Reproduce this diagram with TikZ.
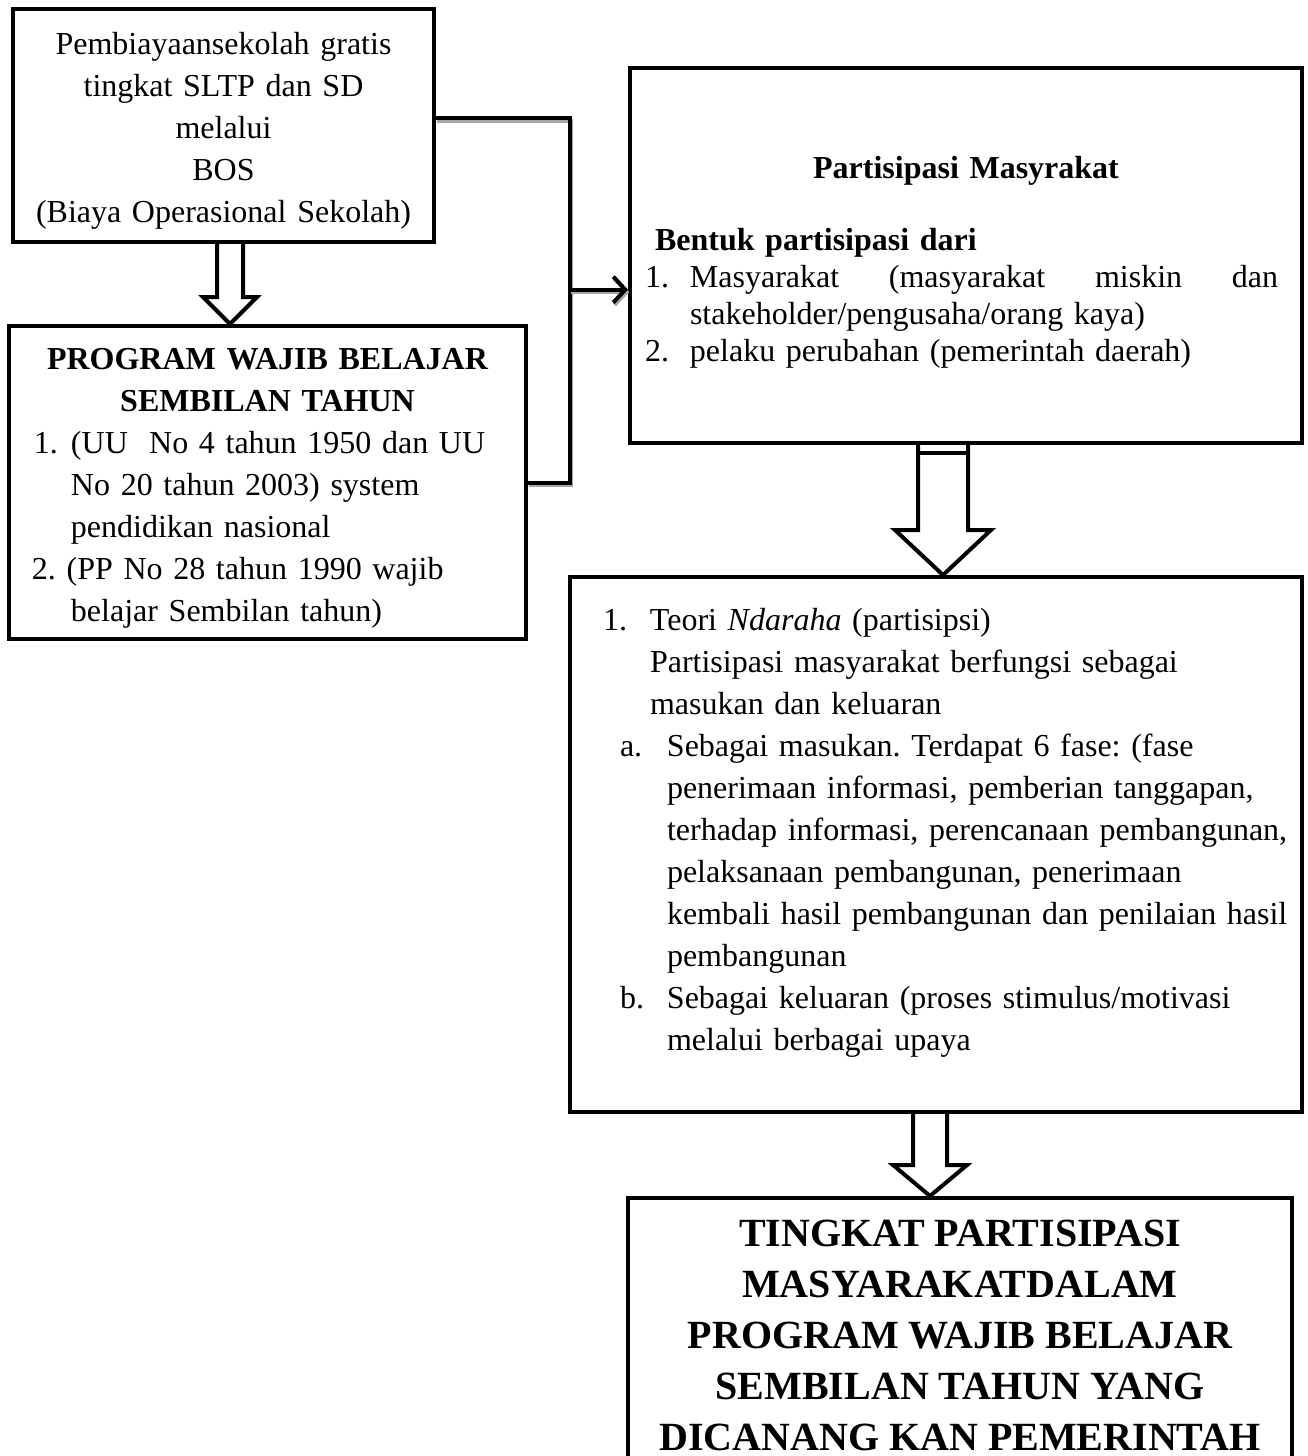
\documentclass[tikz,border=0pt]{standalone}
\usepackage{fontspec}
\setmainfont{Liberation Serif}
\usetikzlibrary{calc,arrows.meta}
\tikzset{
		boxStyle/.style =    {draw,line width=2pt,inner ysep=0pt,font=\fontsize{16}{21}\selectfont},
		connStyle/.style =   {line width=2pt,preaction={draw=black!35,line width=2pt,transform canvas={shift={(0.6pt,-1.2pt)}}}},
		hollowStyle/.style = {line width=2pt,line join=miter}
}
% hollow block arrow: from, to, axis, shaft half width, head half width, head length
\newcommand\hollowArrow[6]{%
  \draw[hollowStyle] let \p1 = (#3 |- #1.south), \p2 = (#3 |- #2.north) in
    (\x1-#4,\y1) -- (\x1-#4,\y2+#6) -- (\x1-#5,\y2+#6) -- (\x1,\y2)
    -- (\x1+#5,\y2+#6) -- (\x1+#4,\y2+#6) -- (\x1+#4,\y1);
}

\begin{document}
\begin{tikzpicture}[x=0.5pt,y=-0.5pt]
  \useasboundingbox (0,0) rectangle (1307,1456);
  \clip (0,0) rectangle (1307,1456);

  % Draw the boxes
  \node [boxStyle,text width=200pt,inner xsep=5.25pt,minimum height=116.5pt] (b1) at (223.5,125.5) {%
    \centering
    Pembiayaansekolah gratis\\ tingkat SLTP dan SD\\ melalui\\ BOS\\ (Biaya Operasional Sekolah)\par
    \kern-5pt};

  \node [boxStyle,text width=235.5pt,inner xsep=11.5pt,minimum height=156.5pt] (b2) at (267.5,482.5) {%
    \frenchspacing
    {\centering\bfseries PROGRAM WAJIB BELAJAR\\ SEMBILAN TAHUN\par}
    \raggedright
    \hspace*{1pt}\makebox[18.5pt][l]{1.}(UU\ \ No 4 tahun 1950 dan UU\\
    \hspace*{19.5pt}No 20 tahun 2003) system\\
    \hspace*{19.5pt}pendidikan nasional\\
    2. (PP No 28 tahun 1990 wajib\\
    \hspace*{19.5pt}belajar Sembilan tahun)\par
    \kern-6pt};

  \node [boxStyle,font=\fontsize{16}{18.5}\selectfont,text width=321pt,inner xsep=7.5pt,minimum height=187.5pt] (b3) at (966,255.5) {%
    {\centering\bfseries Partisipasi Masyrakat\par}
    \vspace{17.5pt}
    \raggedright
    \hspace*{5pt}\textbf{Bentuk partisipasi dari}\\
    \makebox[22.5pt][l]{1.}\hbox to 294pt{Masyarakat\hfill(masyarakat\hfill miskin\hfill dan}\\
    \hspace*{22.5pt}stakeholder/pengusaha/orang kaya)\\
    \makebox[22.5pt][l]{2.}pelaku perubahan (pemerintah daerah)\par
    \kern-7pt};

  \node [boxStyle,text width=350pt,inner xsep=8pt,minimum height=267.5pt] (b4) at (936,844.5) {%
    \raggedright\leftskip=8.5pt\frenchspacing
    \makebox[23.5pt][l]{1.}Teori \textit{Ndaraha} (partisipsi)\\
    \hspace*{23.5pt}Partisipasi masyarakat berfungsi sebagai\\
    \hspace*{23.5pt}masukan dan keluaran\\
    \hspace*{8.5pt}\makebox[23.5pt][l]{a.}Sebagai masukan. Terdapat 6 fase: (fase\\
    \hspace*{32pt}\mbox{penerimaan informasi, pemberian tanggapan,}\\
    \hspace*{32pt}\mbox{terhadap informasi, perencanaan pembangunan,}\\
    \hspace*{32pt}\mbox{pelaksanaan pembangunan, penerimaan}\\
    \hspace*{32pt}\mbox{kembali hasil pembangunan dan penilaian hasil}\\
    \hspace*{32pt}pembangunan\\
    \hspace*{8.5pt}\makebox[23.5pt][l]{b.}\mbox{Sebagai keluaran (proses stimulus/motivasi}\\
    \hspace*{32pt}melalui berbagai upaya\par
    \kern12pt};

  \node [boxStyle,align=center,font=\fontsize{20}{25.5}\bfseries,minimum width=332pt,minimum height=137pt] (b5) at (960,1335)
    {TINGKAT PARTISIPASI\\ MASYARAKATDALAM\\ PROGRAM WAJIB BELAJAR\\ SEMBILAN TAHUN YANG\\ DICANANG KAN PEMERINTAH};

  % Draw the bracket into the right box
  \coordinate (jx) at (570,0);
  \coordinate (out1) at ($(b1.north east)!0.47!(b1.south east)$);
  \coordinate (in3) at ($(b3.north west)!0.59!(b3.south west)$);
  \draw [connStyle] (out1) -| (jx |- b2.east) -- (b2.east);
  \draw [connStyle,-{Straight Barb[length=6pt,width=13pt,line width=2pt]}] (jx |- in3) -- (in3);

  % Draw the hollow arrows
  \coordinate (axisA) at (230,0);
  \coordinate (axisB) at (943,0);
  \coordinate (axisC) at (930,0);
  \hollowArrow{b1}{b2}{axisA}{6.5pt}{13.5pt}{13.5pt}
  \hollowArrow{b3}{b4}{axisB}{12.5pt}{24pt}{22.5pt}
  \hollowArrow{b4}{b5}{axisC}{8.5pt}{18.5pt}{15.5pt}
  \draw [hollowStyle] ($(axisB |- b3.south)+(-12.5pt,-4pt)$) -- ++(25pt,0pt);

\end{tikzpicture}
\end{document}
